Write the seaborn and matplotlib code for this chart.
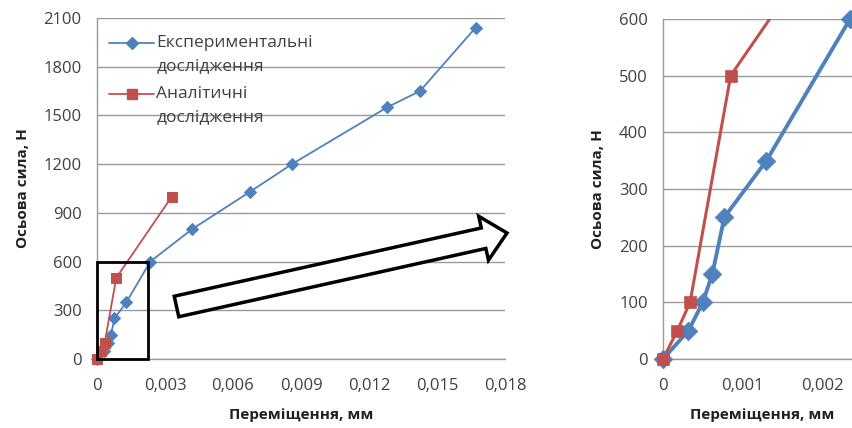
import matplotlib
matplotlib.use("Agg")
import matplotlib.pyplot as plt
import numpy as np
from matplotlib.lines import Line2D
from matplotlib.legend_handler import HandlerLine2D
from matplotlib.patches import Rectangle, FancyArrow
from matplotlib.ticker import FuncFormatter, MultipleLocator
from matplotlib.transforms import IdentityTransform
import pandas as pd
import seaborn as sns

# Experimental measurements: displacement (mm) vs axial force (N)
exp_disp = [0, 0.00032, 0.0005, 0.00062, 0.00077, 0.0013, 0.00235,
            0.0042, 0.00675, 0.0086, 0.0128, 0.01425, 0.0167]
exp_force = [0, 50, 100, 150, 250, 350, 600, 800, 1030, 1200, 1550, 1650, 2040]

# Analytical results
ana_disp = [0, 0.00018, 0.00034, 0.00085, 0.0033]
ana_force = [0, 50, 100, 500, 1000]

label_exp = "Експериментальні\nдослідження"
label_ana = "Аналітичні\nдослідження"
xlabel = "Переміщення, мм"
ylabel = "Осьова сила, Н"

BLUE = "#4F81BD"
RED = "#C0504D"
TXT = "#404040"

sns.set_theme(style="white")
plt.rcParams["font.family"] = ["Open Sans", "DejaVu Sans"]

exp_df = pd.DataFrame({"x": exp_disp, "y": exp_force})
ana_df = pd.DataFrame({"x": ana_disp, "y": ana_force})

W, H = 853, 428
fig = plt.figure(figsize=(W / 100, H / 100), dpi=100)


def px_axes(x0, x1, y0, y1):
    return fig.add_axes([x0 / W, 1 - y1 / H, (x1 - x0) / W, (y1 - y0) / H])


def comma_fmt(v, _):
    if abs(v) < 1e-12:
        return "0"
    return f"{v:.3f}".replace(".", ",")


def style_axes(ax, xmax, xstep, ymax, ystep):
    ax.set_xlim(0, xmax)
    ax.set_ylim(0, ymax)
    ax.xaxis.set_major_locator(MultipleLocator(xstep))
    ax.yaxis.set_major_locator(MultipleLocator(ystep))
    ax.xaxis.set_major_formatter(FuncFormatter(comma_fmt))
    ax.yaxis.grid(True, color="#9a9a9a", linewidth=1.0)
    ax.xaxis.grid(False)
    ax.set_axisbelow(True)
    for side in ("top", "right"):
        ax.spines[side].set_visible(False)
    for side in ("left", "bottom"):
        ax.spines[side].set_color("#9a9a9a")
        ax.spines[side].set_linewidth(1.0)
    ax.tick_params(axis="both", direction="out", length=5, width=1,
                   color="#9a9a9a", labelsize=12, labelcolor=TXT, pad=6)
    ax.tick_params(axis="x", pad=9)
    ax.set_xlabel(xlabel, fontsize=11, fontweight="bold", color="#202020", labelpad=10)
    ax.set_ylabel(ylabel, fontsize=11, fontweight="bold", color="#202020", labelpad=10)


class FirstLineHandler(HandlerLine2D):
    """Legend handle aligned with the first line of a two-line label."""

    def __init__(self, shift, **kw):
        super().__init__(**kw)
        self.shift = shift

    def create_artists(self, legend, orig_handle, xdescent, ydescent,
                       width, height, fontsize, trans):
        artists = super().create_artists(legend, orig_handle, xdescent,
                                         ydescent, width, height, fontsize,
                                         trans)
        for a in artists:
            a.set_ydata(np.asarray(a.get_ydata(), dtype=float) + self.shift)
        return artists


# Left panel: full range
ax1 = px_axes(97, 505, 18, 359)
sns.lineplot(data=exp_df, x="x", y="y", sort=False, estimator=None, ax=ax1,
             color=BLUE, linewidth=1.3, marker="D", markersize=6,
             markeredgecolor=BLUE, clip_on=False)
sns.lineplot(data=ana_df, x="x", y="y", sort=False, estimator=None, ax=ax1,
             color=RED, linewidth=1.3, marker="s", markersize=7,
             markeredgecolor=RED, clip_on=False)
style_axes(ax1, 0.018, 0.003, 2100, 300)

handles = [
    Line2D([], [], color=BLUE, linewidth=1.3, marker="D", markersize=6),
    Line2D([], [], color=RED, linewidth=1.3, marker="s", markersize=7),
]
leg = ax1.legend(handles, [label_exp, label_ana], loc="upper left",
                 bbox_to_anchor=(-0.008, 0.995), frameon=False, fontsize=12.5,
                 labelcolor=TXT, handlelength=2.6, handletextpad=0.1,
                 labelspacing=0.7,
                 handler_map={Line2D: FirstLineHandler(shift=8.0)})
for t in leg.get_texts():
    t.set_linespacing(1.55)

# Zoom region frame
ax1.add_patch(Rectangle((0, 0), 0.00224, 600, fill=False, edgecolor="black",
                        linewidth=2, zorder=5, clip_on=False))

# Hollow arrow pointing to the zoomed panel (pixel coordinates)
tail = (176.5, H - 306.5)
tip = (507, H - 233)
dx, dy = tip[0] - tail[0], tip[1] - tail[1]
arrow = FancyArrow(tail[0], tail[1], dx, dy, width=21, head_width=45,
                   head_length=24, length_includes_head=True,
                   facecolor="white", edgecolor="black", linewidth=2.5,
                   transform=IdentityTransform(), zorder=10)
fig.add_artist(arrow)

# Right panel: initial segment (lines clipped, visible markers drawn in full)
X2MAX, Y2MAX = 0.0025, 600
ax2 = px_axes(663, 862, 19, 359)
sns.lineplot(data=exp_df, x="x", y="y", sort=False, estimator=None, ax=ax2,
             color=BLUE, linewidth=2.8)
sns.lineplot(data=ana_df, x="x", y="y", sort=False, estimator=None, ax=ax2,
             color=RED, linewidth=2.2)
exp_in = exp_df[(exp_df.x <= X2MAX) & (exp_df.y <= Y2MAX)]
ana_in = ana_df[(ana_df.x <= X2MAX) & (ana_df.y <= Y2MAX)]
sns.scatterplot(data=exp_in, x="x", y="y", ax=ax2, color=BLUE, marker="D",
                s=90, edgecolor=BLUE, linewidth=0.5, clip_on=False, zorder=4)
sns.scatterplot(data=ana_in, x="x", y="y", ax=ax2, color=RED, marker="s",
                s=70, edgecolor=RED, linewidth=0.5, clip_on=False, zorder=5)
style_axes(ax2, X2MAX, 0.001, Y2MAX, 100)
if ax2.get_legend() is not None:
    ax2.get_legend().remove()

fig.savefig("out.png", dpi=100)
